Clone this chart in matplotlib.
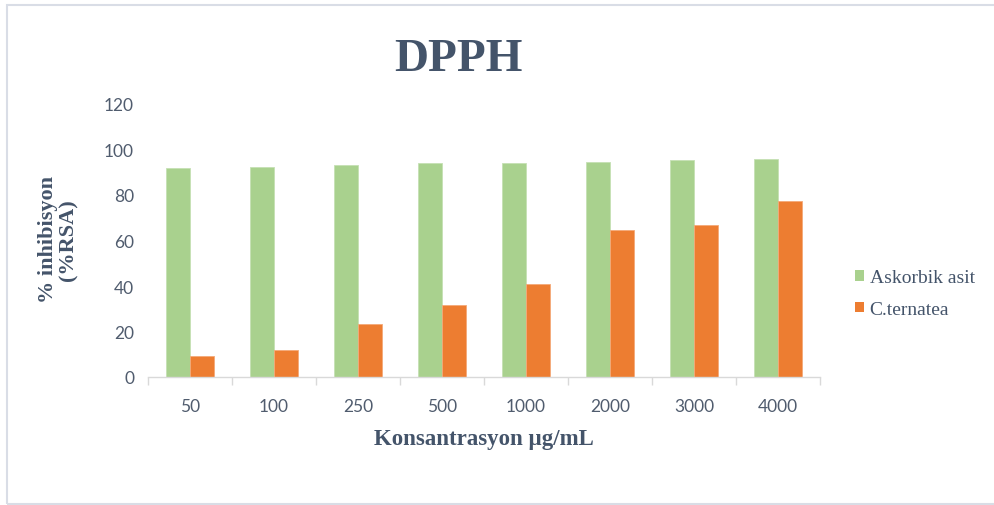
import matplotlib
matplotlib.use('Agg')
import matplotlib.pyplot as plt
import numpy as np
from matplotlib.patches import Patch, Rectangle

concentrations = ['50', '100', '250', '500', '1000', '2000', '3000', '4000']
askorbik = [92.0, 92.5, 93.4, 93.9, 93.9, 94.4, 95.5, 95.9]
cternatea = [9.1, 12.0, 23.2, 31.6, 40.8, 64.8, 66.7, 77.3]
y_ticks = [0, 20, 40, 60, 80, 100, 120]

green = '#a9d18e'
orange = '#ed7d31'
text_col = '#44546a'
tick_col = '#505c6e'
serif = 'Liberation Serif'

fig = plt.figure(figsize=(9.95, 5.06), dpi=100)
ax = fig.add_axes([148 / 995, 1 - 378 / 506, (820 - 148) / 995, (378 - 105) / 506])

x = np.arange(len(concentrations))
w = 0.286
ax.bar(x - w / 2, askorbik, w, color=green, edgecolor='#c5e0b4', linewidth=0.6)
ax.bar(x + w / 2, cternatea, w, color=orange, edgecolor='#f4a978', linewidth=0.6)

ax.set_xlim(-0.5, len(concentrations) - 0.5)
ax.set_ylim(0, 120)
ax.set_yticks(y_ticks)
ax.set_xticks(x)
ax.set_xticklabels(concentrations)
ax.set_xticks(np.arange(-0.5, len(concentrations)), minor=True)
ax.tick_params(axis='x', which='major', length=0, pad=15, labelsize=12.5, labelcolor=tick_col)
ax.tick_params(axis='x', which='minor', length=6, color='#d9d9d9', width=1)
ax.tick_params(axis='y', length=0, pad=10, labelsize=12.5, labelcolor=tick_col)
for lbl in ax.get_xticklabels() + ax.get_yticklabels():
    lbl.set_family('Lato')

for s in ['top', 'right', 'left']:
    ax.spines[s].set_visible(False)
ax.spines['bottom'].set_color('#d9d9d9')
ax.spines['bottom'].set_linewidth(1)

fig.text(458 / 995, 1 - 60 / 506, 'DPPH', ha='center', va='center',
         family=serif, fontweight='bold', fontsize=34, color=text_col)
fig.text(58 / 995, 1 - 240 / 506, '% inhibisyon\n(%RSA)', ha='center', va='center',
         rotation=90, multialignment='center', family=serif, fontweight='bold',
         fontsize=16, color=text_col, linespacing=1.05)
fig.text(484 / 995, 1 - 440 / 506, 'Konsantrasyon µg/mL', ha='center', va='center',
         family=serif, fontweight='bold', fontsize=16.5, color=text_col)

handles = [Patch(facecolor=green, label='Askorbik asit'),
           Patch(facecolor=orange, label='C.ternatea')]
leg = fig.legend(handles=handles, loc='center left', bbox_to_anchor=(855 / 995, 1 - 294.5 / 506),
                 frameon=False, handlelength=0.45, handleheight=0.45, handletextpad=0.3,
                 labelspacing=0.75, borderpad=0, borderaxespad=0,
                 prop={'family': serif, 'size': 14})
for t in leg.get_texts():
    t.set_color(text_col)

fig.patches.append(Rectangle((7 / 995, 1 - 505 / 506), 1.1, 499 / 506, transform=fig.transFigure,
                             fill=False, edgecolor='#d9dde6', linewidth=1.5))

fig.savefig('out.png', dpi=100)
